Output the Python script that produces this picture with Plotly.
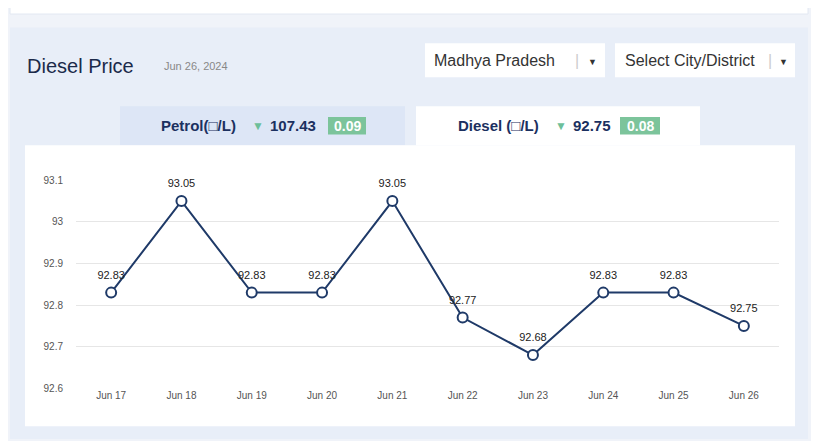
import plotly.graph_objects as go

dates = ["Jun 17","Jun 18","Jun 19","Jun 20","Jun 21","Jun 22","Jun 23","Jun 24","Jun 25","Jun 26"]
prices = [92.83, 93.05, 92.83, 92.83, 93.05, 92.77, 92.68, 92.83, 92.83, 92.75]
yticks = [92.6, 92.7, 92.8, 92.9, 93, 93.1]

OFF = 8
W, H = 819 - OFF, 441 - OFF
def px(x): return (x - OFF) / W
def py(y): return 1 - (y - OFF) / H

fig = go.Figure()
fig.add_trace(go.Scatter(
    x=dates, y=prices, mode="lines+markers",
    line=dict(color="#1f3a68", width=2),
    marker=dict(size=10, color="white", line=dict(color="#1f3a68", width=2)),
    hoverinfo="skip", cliponaxis=False))
fig.add_trace(go.Scatter(
    x=dates, y=prices, mode="markers+text",
    text=[f"{p:g}" for p in prices], textposition="top center",
    textfont=dict(family="Arial, Liberation Sans", size=11, color="#222"),
    marker=dict(size=16, opacity=0), hoverinfo="skip", cliponaxis=False))

shapes = []
def rect(x0, y0, x1, y1, fill, line=None):
    shapes.append(dict(type="rect", xref="paper", yref="paper", x0=px(x0), x1=px(x1),
                       y0=py(y1), y1=py(y0), fillcolor=fill, layer="below",
                       line=dict(width=1 if line else 0, color=line or fill)))
rect(0, 0, 819, 441, "#f0f3f9")
rect(10, 0, 808, 8, "#ffffff", "#e2e8f2")
rect(10, 22, 808, 445, "#e8eef8")
rect(425, 38, 605, 73, "#ffffff")
rect(615, 38, 795, 73, "#ffffff")
rect(120, 103, 405, 143, "#dde6f6")
rect(416, 103, 700, 143, "#ffffff")
rect(25, 143, 795, 432, "#ffffff")
rect(328, 114, 366, 132, "#7cc49b")
rect(620, 114, 660, 132, "#7cc49b")

ann = []
def text(x, y, s, size, color, anchor="left", bold=False):
    ann.append(dict(xref="paper", yref="paper", x=px(x), y=py(y), text=f"<b>{s}</b>" if bold else s,
                    showarrow=False, xanchor=anchor, yanchor="middle",
                    font=dict(family="Arial, Liberation Sans", size=size, color=color)))
text(25, 61, "Diesel Price", 20, "#1b2a4a")
text(162, 61, "Jun 26, 2024", 11, "#888")
text(432, 56, "Madhya Pradesh", 16, "#333")
text(577, 56, "|", 16, "#ccc", "center")
text(592, 57, "▼", 9, "#333", "center")
text(623, 56, "Select City/District", 16, "#333")
text(770, 56, "|", 16, "#ccc", "center")
text(783, 57, "▼", 9, "#333", "center")
text(159, 123, "Petrol(□/L)", 15, "#1b3060", bold=True)
text(258, 123, "▼", 12, "#6dbf9a", "center")
text(268, 123, "107.43", 15, "#1b3060", bold=True)
text(347, 123, "0.09", 14, "#ffffff", "center", bold=True)
text(456, 123, "Diesel (□/L)", 15, "#1b3060", bold=True)
text(561, 123, "▼", 12, "#6dbf9a", "center")
text(571, 123, "92.75", 15, "#1b3060", bold=True)
text(640, 123, "0.08", 14, "#ffffff", "center", bold=True)

fig.update_layout(
    width=W, height=H, margin=dict(l=0, r=0, t=0, b=0),
    paper_bgcolor="#f0f3f9", plot_bgcolor="rgba(0,0,0,0)", showlegend=False,
    shapes=shapes, annotations=ann,
    xaxis=dict(domain=[px(76), px(779)], range=[-0.5, 9.5], showgrid=False, zeroline=False,
               showline=False, ticks="", tickfont=dict(family="Arial, Liberation Sans", size=10, color="#555"),
               fixedrange=True),
    yaxis=dict(domain=[py(393), py(179)], range=[92.6, 93.1], tickvals=yticks,
               ticktext=[f"{v:g}" for v in yticks], showgrid=True, gridcolor="#e6e6e6",
               zeroline=False, showline=False, ticks="", ticklabelstandoff=12,
               tickfont=dict(family="Arial, Liberation Sans", size=10, color="#555"), fixedrange=True),
)
fig.write_html("out.html")
